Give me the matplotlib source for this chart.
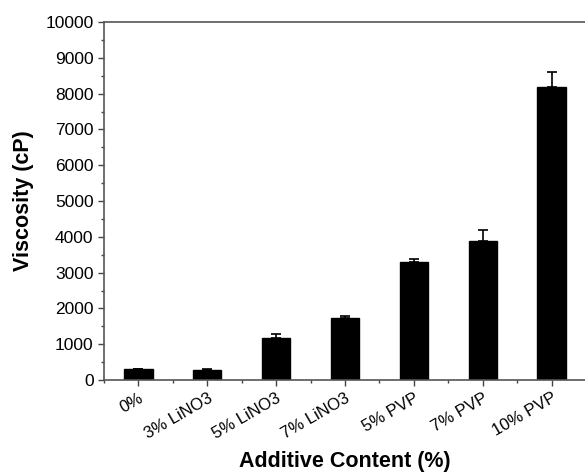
import matplotlib
matplotlib.use("Agg")
import matplotlib.pyplot as plt
from matplotlib.ticker import MultipleLocator, FixedLocator

categories = ["0%", "3% LiNO3", "5% LiNO3", "7% LiNO3", "5% PVP", "7% PVP", "10% PVP"]
viscosity = [300, 290, 1185, 1745, 3310, 3870, 8180]
errors = [20, 20, 110, 45, 70, 320, 410]

plt.rcParams['font.family'] = ['Liberation Sans', 'DejaVu Sans']

fig = plt.figure(figsize=(5.85, 4.74), dpi=100)
ax = fig.add_axes([104/585, 1-380/474, 482/585, 358/474])

x = list(range(len(categories)))
ax.bar(x, viscosity, width=0.41, color='black', edgecolor='black', zorder=2)
ax.errorbar(x, viscosity, yerr=[[0]*len(errors), errors], fmt='none',
            ecolor='black', elinewidth=1.2, capsize=3.5, capthick=1.2, zorder=3)

ax.set_xlim(-0.5, 6.5)
ax.set_ylim(0, 10000)
ax.set_xticks(x)
ax.set_xticklabels(categories, rotation=30, ha='right', rotation_mode='anchor', fontsize=12)
ax.xaxis.set_minor_locator(FixedLocator([i + 0.5 for i in range(-1, 7)]))
ax.yaxis.set_major_locator(MultipleLocator(1000))
ax.yaxis.set_minor_locator(MultipleLocator(500))
ax.tick_params(axis='y', labelsize=12.5)
ax.tick_params(which='major', direction='out', length=4, width=1, color='#444444')
ax.tick_params(which='minor', direction='out', length=2.5, width=1, color='#444444')

for s in ax.spines.values():
    s.set_color('#555555')
    s.set_linewidth(1.2)

ax.set_ylabel("Viscosity (cP)", fontsize=15.5, fontweight='bold', labelpad=8)
ax.set_xlabel("Additive Content (%)", fontsize=15.5, fontweight='bold', labelpad=7)

fig.savefig("out.png", dpi=100)
